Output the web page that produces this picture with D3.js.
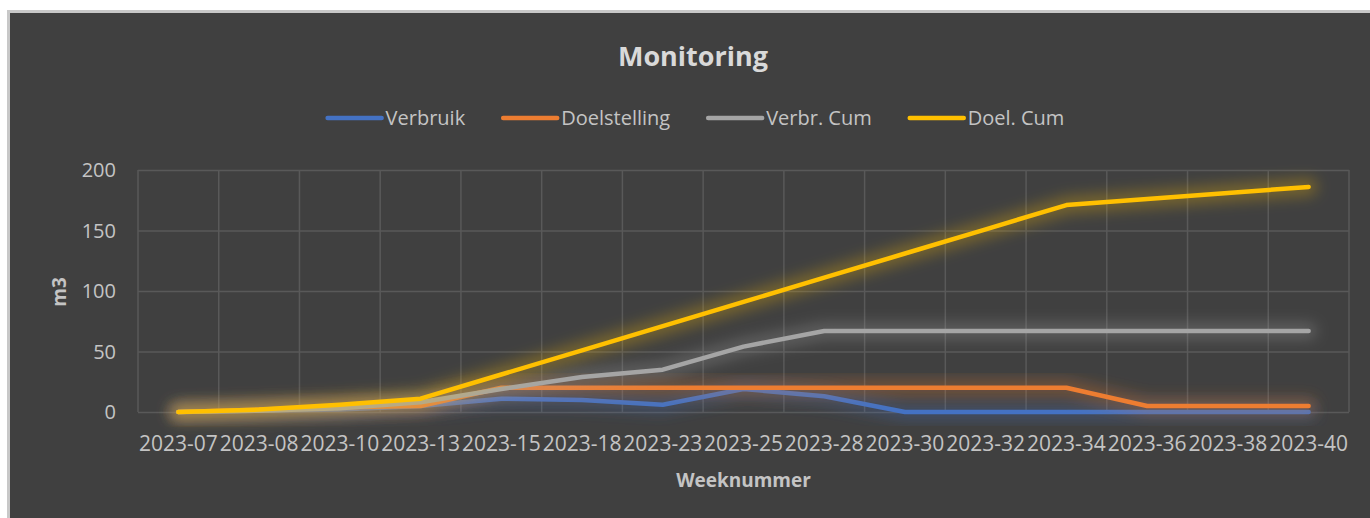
<!DOCTYPE html>
<html lang="nl">
<head>
<meta charset="UTF-8">
<title>Monitoring</title>
<script src="https://d3js.org/d3.v7.min.js"></script>
<style>
  body { margin: 0; background: #ffffff; }
  svg { display: block; font-family: "Open Sans", sans-serif; }
  .grid line { stroke: #595959; stroke-width: 1.5; }
  .grid .domain { display: none; }
  .tick-label { fill: #c4c4c4; font-size: 20px; }
</style>
</head>
<body>
<svg width="1370" height="518"></svg>
<script>
// week labels
var categories = ["2023-07", "2023-08", "2023-10", "2023-13", "2023-15", "2023-18", "2023-23",
  "2023-25", "2023-28", "2023-30", "2023-32", "2023-34", "2023-36", "2023-38", "2023-40"];
var verbruik     = [0, 1, 2, 5, 11, 10, 6, 19, 13, 0, 0, 0, 0, 0, 0];
var doelstelling = [0, 2, 4, 5, 20, 20, 20, 20, 20, 20, 20, 20, 5, 5, 5];
var verbrCum     = [0, 1, 3, 8, 19, 29, 35, 54, 67, 67, 67, 67, 67, 67, 67];
var doelCum      = [0, 2, 6, 11, 31, 51, 71, 91, 111, 131, 151, 171, 176, 181, 186];
var yTicks = [0, 50, 100, 150, 200];

var seriesNames = ["Verbruik", "Doelstelling", "Verbr. Cum", "Doel. Cum"];
var seriesColors = ["#4472c4", "#ed7d31", "#a5a5a5", "#ffc000"];
var seriesValues = [verbruik, doelstelling, verbrCum, doelCum];

var svg = d3.select("svg");

// chart frame
svg.append("rect")
  .attr("x", 8.5).attr("y", 11.5)
  .attr("width", 1370).attr("height", 520)
  .attr("fill", "#404040")
  .attr("stroke", "#c8c8c8")
  .attr("stroke-width", 3);

// soft glow like excel's
var defs = svg.append("defs");
var glow = defs.append("filter")
  .attr("id", "glow")
  .attr("x", "-10%").attr("y", "-60%")
  .attr("width", "120%").attr("height", "220%");
glow.append("feGaussianBlur").attr("stdDeviation", 7);

var plotL = 138, plotR = 1349, plotT = 170, plotB = 412;

var x = d3.scaleBand().domain(categories).range([plotL, plotR]);
var y = d3.scaleLinear().domain([0, 200]).range([plotB, plotT]);
var cx = function(c) { return x(c) + x.bandwidth() / 2; };

// horizontal grid
svg.append("g")
  .attr("class", "grid")
  .attr("transform", "translate(" + plotL + ",0)")
  .call(d3.axisLeft(y).tickValues(yTicks).tickSize(-(plotR - plotL)).tickFormat(""));

// vertical grid on category boundaries
var bounds = categories.map(function(c) { return x(c); }).concat([plotR]);
svg.append("g")
  .attr("class", "grid")
  .selectAll("line")
  .data(bounds)
  .join("line")
  .attr("x1", function(d) { return d; })
  .attr("x2", function(d) { return d; })
  .attr("y1", plotT)
  .attr("y2", plotB);

// y labels
svg.append("g")
  .selectAll("text")
  .data(yTicks)
  .join("text")
  .attr("class", "tick-label")
  .attr("x", 116)
  .attr("y", function(d) { return y(d); })
  .attr("dy", "0.36em")
  .attr("text-anchor", "end")
  .text(function(d) { return d; });

// x labels (they touch each other in the original)
svg.append("g")
  .selectAll("text")
  .data(categories)
  .join("text")
  .attr("class", "tick-label")
  .attr("x", function(d) { return cx(d); })
  .attr("y", 451)
  .attr("text-anchor", "middle")
  .style("font-size", "21px")
  .text(function(d) { return d; });

// lines
var line = d3.line()
  .x(function(d, i) { return cx(categories[i]); })
  .y(function(d) { return y(d); });

seriesValues.forEach(function(vals, k) {
  var g = svg.append("g");
  g.append("path")
    .attr("d", line(vals))
    .attr("fill", "none")
    .attr("stroke", seriesColors[k])
    .attr("stroke-width", 18)
    .attr("stroke-opacity", 0.28)
    .attr("stroke-linejoin", "round")
    .attr("stroke-linecap", "round")
    .attr("filter", "url(#glow)");
  g.append("path")
    .attr("d", line(vals))
    .attr("fill", "none")
    .attr("stroke", seriesColors[k])
    .attr("stroke-width", 4.5)
    .attr("stroke-linejoin", "round")
    .attr("stroke-linecap", "round");
});

// title
svg.append("text")
  .attr("x", 693).attr("y", 66)
  .attr("text-anchor", "middle")
  .attr("fill", "#d9d9d9")
  .attr("font-size", 27)
  .attr("font-weight", 700)
  .text("Monitoring");

// axis titles
svg.append("text")
  .attr("x", (plotL + plotR) / 2).attr("y", 487)
  .attr("text-anchor", "middle")
  .attr("fill", "#c4c4c4")
  .attr("font-size", 19)
  .attr("font-weight", 700)
  .text("Weeknummer");

svg.append("text")
  .attr("transform", "translate(66,292) rotate(-90)")
  .attr("text-anchor", "middle")
  .attr("fill", "#c4c4c4")
  .attr("font-size", 19)
  .attr("font-weight", 700)
  .text("m3");

// legend
var legend = svg.append("g");
var items = seriesNames.map(function(name, k) {
  var it = legend.append("g");
  it.append("line")
    .attr("x1", 0).attr("x2", 54)
    .attr("y1", 0).attr("y2", 0)
    .attr("stroke", seriesColors[k])
    .attr("stroke-width", 4.5)
    .attr("stroke-linecap", "round");
  var t = it.append("text")
    .attr("class", "tick-label")
    .attr("x", 58)
    .attr("dy", "0.36em")
    .text(name);
  return { g: it, w: 58 + t.node().getComputedTextLength() };
});
var gap = 38;
var total = d3.sum(items, function(d) { return d.w; }) + gap * (items.length - 1);
var pos = 696 - total / 2;
items.forEach(function(d) {
  d.g.attr("transform", "translate(" + pos + ",118)");
  pos += d.w + gap;
});
</script>
</body>
</html>
